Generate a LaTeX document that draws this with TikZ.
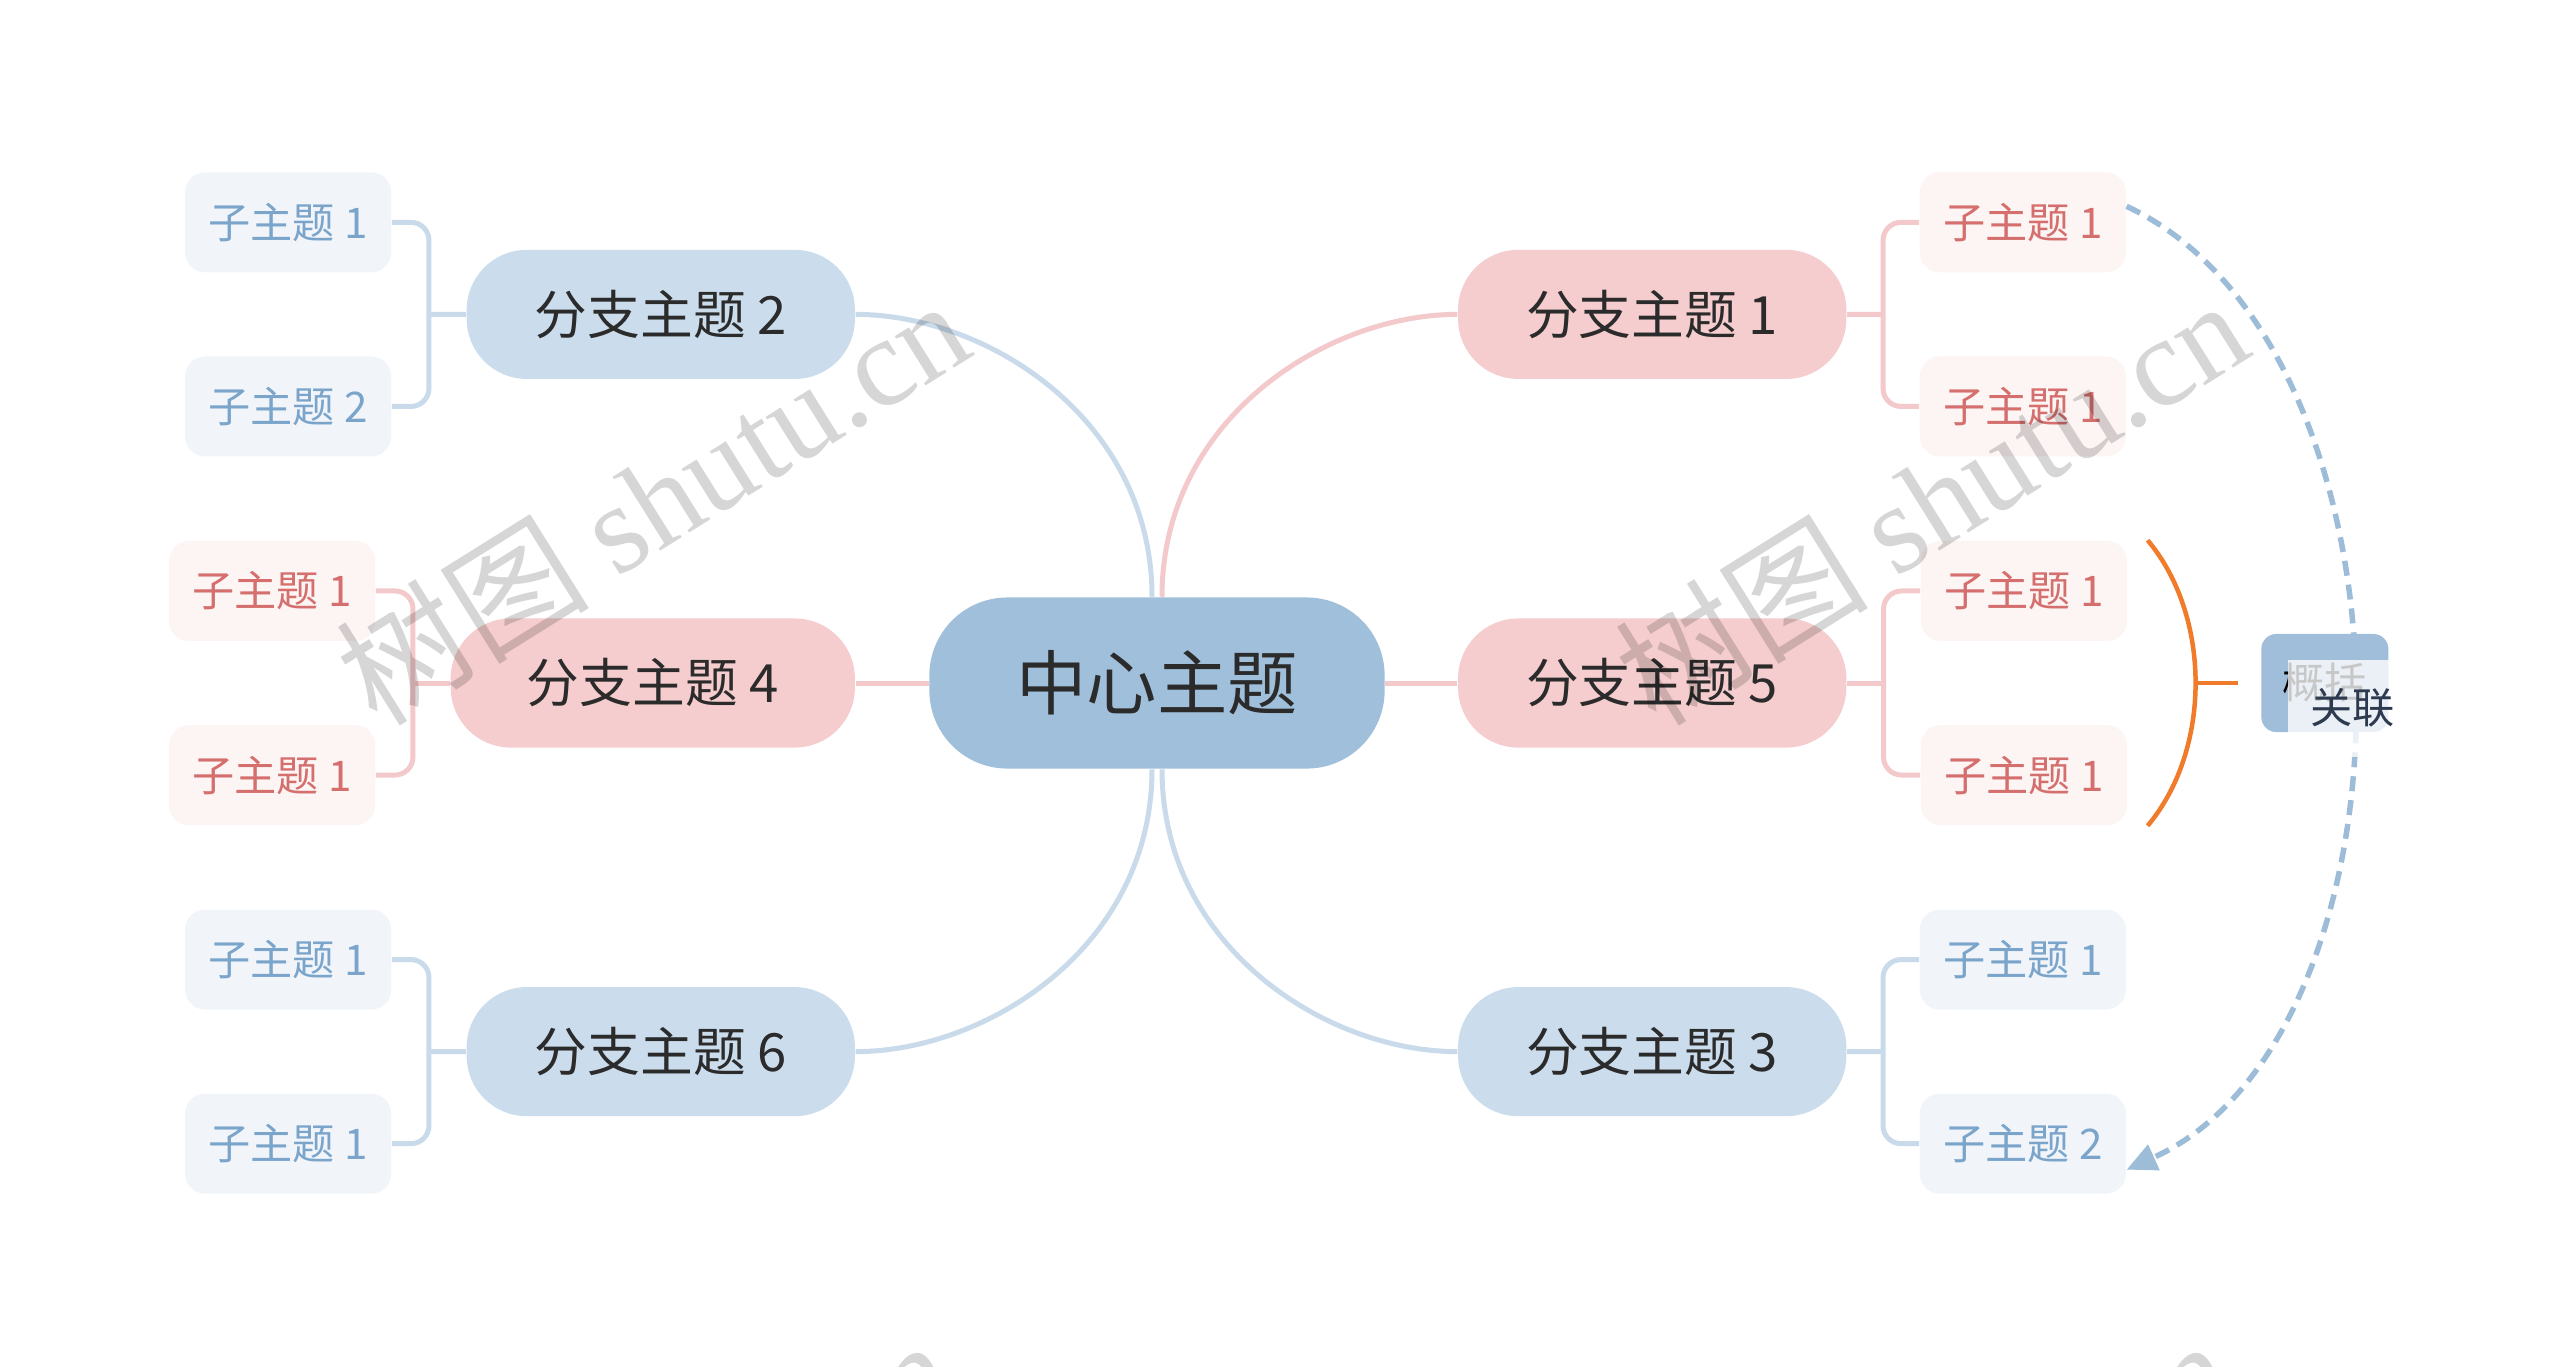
\documentclass[tikz,border=0pt]{standalone}
\usepackage{fontspec}
\setmainfont{Noto Sans CJK SC}
\newfontfamily\wmfont{Liberation Serif}
\usepackage{xcolor}
\usepackage{tikz}
\usetikzlibrary{positioning,arrows.meta,calc}

\definecolor{rootblue}{HTML}{A0BFDB}
\definecolor{pillblue}{HTML}{CBDDED}
\definecolor{pillpink}{HTML}{F5CDCE}
\definecolor{subblue}{HTML}{F1F5FA}
\definecolor{subpink}{HTML}{FDF4F4}
\definecolor{subbluetext}{HTML}{7BA4CB}
\definecolor{subpinktext}{HTML}{D46F6E}
\definecolor{lineblue}{HTML}{C9DBEB}
\definecolor{linepink}{HTML}{F4C9CB}
\definecolor{textdark}{HTML}{2B2B2B}
\definecolor{orangebr}{HTML}{EF7B2B}
\definecolor{sumblue}{HTML}{A0BEDA}
\definecolor{relblue}{HTML}{9DBCD8}
\definecolor{labeltext}{HTML}{2D3A4F}

\newcommand{\wmtext}{树图 {\wmfont shutu.cn}}

\begin{document}
\begin{tikzpicture}[
    x=0.01cm, y=-0.01cm,
    node distance=0.72cm,
    rootbox/.style={rectangle, rounded corners=0.78cm, fill=rootblue, minimum width=4.55cm, minimum height=1.71cm, inner sep=0pt, text=textdark, font=\fontsize{20}{24}\selectfont},
    bluepill/.style={rectangle, rounded corners=0.6cm, fill=pillblue, minimum width=3.88cm, minimum height=1.29cm, inner sep=0pt, text=textdark, font=\fontsize{15}{18}\selectfont},
    pinkpill/.style={bluepill, fill=pillpink},
    bluesub/.style={rectangle, rounded corners=0.2cm, fill=subblue, minimum width=2.06cm, minimum height=1cm, inner sep=0pt, text=subbluetext, font=\fontsize{12}{14}\selectfont},
    pinksub/.style={bluesub, fill=subpink, text=subpinktext},
    blueline/.style={draw=lineblue, line width=0.05cm},
    pinkline/.style={draw=linepink, line width=0.05cm},
    orangeline/.style={draw=orangebr, line width=0.045cm},
    sumbox/.style={rectangle, rounded corners=0.15cm, fill=sumblue, minimum width=1.27cm, minimum height=0.98cm, inner sep=0pt, text=black, font=\fontsize{12}{14}\selectfont},
    relline/.style={draw=relblue, line width=0.055cm, dash pattern=on 0.15cm off 0.09cm, -{Triangle[length=0.3cm, width=0.27cm]}},
    rellabel/.style={rectangle, fill=white, fill opacity=0.78, text opacity=1, minimum width=1.3cm, minimum height=0.97cm, inner sep=0pt, text=labeltext, font=\fontsize{12}{14}\selectfont},
    wmark/.style={text=black, text opacity=0.16, font=\fontsize{36}{36}\selectfont}
]

\path[use as bounding box, fill=white] (0,0) rectangle (2560,1366);

% center and branches
\node[rootbox] (root) at (1157,683) {中心主题};
\node[pinkpill, right=0.72cm of root] (b5) {分支主题 5};
\node[pinkpill, above=2.38cm of b5] (b1) {分支主题 1};
\node[bluepill, below=2.38cm of b5] (b3) {分支主题 3};
\node[pinkpill, minimum width=4.04cm, left=0.73cm of root] (b4) {分支主题 4};
\node[bluepill, above=2.38cm of b4, xshift=0.08cm] (b2) {分支主题 2};
\node[bluepill, below=2.38cm of b4, xshift=0.08cm] (b6) {分支主题 6};

% sub topics
\node[pinksub, right=0.72cm of b1, yshift=0.92cm] (s11) {子主题 1};
\node[pinksub, right=0.72cm of b1, yshift=-0.92cm] (s12) {子主题 1};
\node[pinksub, right=0.73cm of b5, yshift=0.92cm] (s51) {子主题 1};
\node[pinksub, right=0.73cm of b5, yshift=-0.92cm] (s52) {子主题 1};
\node[bluesub, right=0.72cm of b3, yshift=0.92cm] (s31) {子主题 1};
\node[bluesub, right=0.72cm of b3, yshift=-0.92cm] (s32) {子主题 2};
\node[bluesub, left=0.74cm of b2, yshift=0.92cm] (s21) {子主题 1};
\node[bluesub, left=0.74cm of b2, yshift=-0.92cm] (s22) {子主题 2};
\node[pinksub, left=0.74cm of b4, yshift=0.92cm] (s41) {子主题 1};
\node[pinksub, left=0.74cm of b4, yshift=-0.92cm] (s42) {子主题 1};
\node[bluesub, left=0.74cm of b6, yshift=0.92cm] (s61) {子主题 1};
\node[bluesub, left=0.74cm of b6, yshift=-0.92cm] (s62) {子主题 1};

% center to branches
\draw[blueline] ([xshift=-0.05cm]root.north) .. controls +(0,-177) and +(132,0) .. (b2.east);
\draw[pinkline] ([xshift=0.05cm]root.north) .. controls +(0,-177) and +(-132,0) .. (b1.west);
\draw[blueline] ([xshift=-0.05cm]root.south) .. controls +(0,177) and +(132,0) .. (b6.east);
\draw[blueline] ([xshift=0.05cm]root.south) .. controls +(0,177) and +(-132,0) .. (b3.west);
\draw[pinkline] (root.west) -- (b4.east);
\draw[pinkline] (root.east) -- (b5.west);

% brackets to sub topics
\coordinate (k1) at ($(b1.east)!0.5!(s11.west |- b1.east)$);
\coordinate (k5) at ($(b5.east)!0.5!(s51.west |- b5.east)$);
\coordinate (k3) at ($(b3.east)!0.5!(s31.west |- b3.east)$);
\coordinate (k2) at ($(b2.west)!0.5!(s21.east |- b2.west)$);
\coordinate (k4) at ($(b4.west)!0.5!(s41.east |- b4.west)$);
\coordinate (k6) at ($(b6.west)!0.5!(s61.east |- b6.west)$);

\draw[pinkline, rounded corners=0.18cm] (s11.west) -| (k1) |- (s12.west);
\draw[pinkline] (b1.east) -- (k1);
\draw[pinkline, rounded corners=0.18cm] (s51.west) -| (k5) |- (s52.west);
\draw[pinkline] (b5.east) -- (k5);
\draw[blueline, rounded corners=0.18cm] (s31.west) -| (k3) |- (s32.west);
\draw[blueline] (b3.east) -- (k3);
\draw[blueline, rounded corners=0.18cm] (s21.east) -| (k2) |- (s22.east);
\draw[blueline] (b2.west) -- (k2);
\draw[pinkline, rounded corners=0.18cm] (s41.east) -| (k4) |- (s42.east);
\draw[pinkline] (b4.west) -- (k4);
\draw[blueline, rounded corners=0.18cm] (s61.east) -| (k6) |- (s62.east);
\draw[blueline] (b6.west) -- (k6);

% relation
\draw[relline] ([yshift=0.16cm]s11.east) .. controls +(301,141) and +(303,-137) .. coordinate[pos=0.515] (rl) ([yshift=-0.26cm]s32.east);

% summary
\coordinate (ba) at ([xshift=0.2cm]s51.north east);
\coordinate (bb) at ([xshift=0.2cm]s52.south east);
\draw[orangeline] (ba) .. controls +(64,76) and +(64,-76) .. coordinate[pos=0.5] (bm) (bb);
\draw[orangeline] (bm) -- ++(42,0) coordinate (bt);
\node[sumbox, right=0.23cm of bt] (sum) {概括};
\node[rellabel] (rel) at (rl) {关联};

% watermark
\node[wmark, rotate=32] (wm1) at (652,500) {\wmtext};
\node[wmark, rotate=32] (wm2) at (1931,500) {\wmtext};
\node[wmark, rotate=32] (wm3) at (636,1540) {\wmtext};
\node[wmark, rotate=32] (wm4) at (1915,1540) {\wmtext};

\end{tikzpicture}
\end{document}
